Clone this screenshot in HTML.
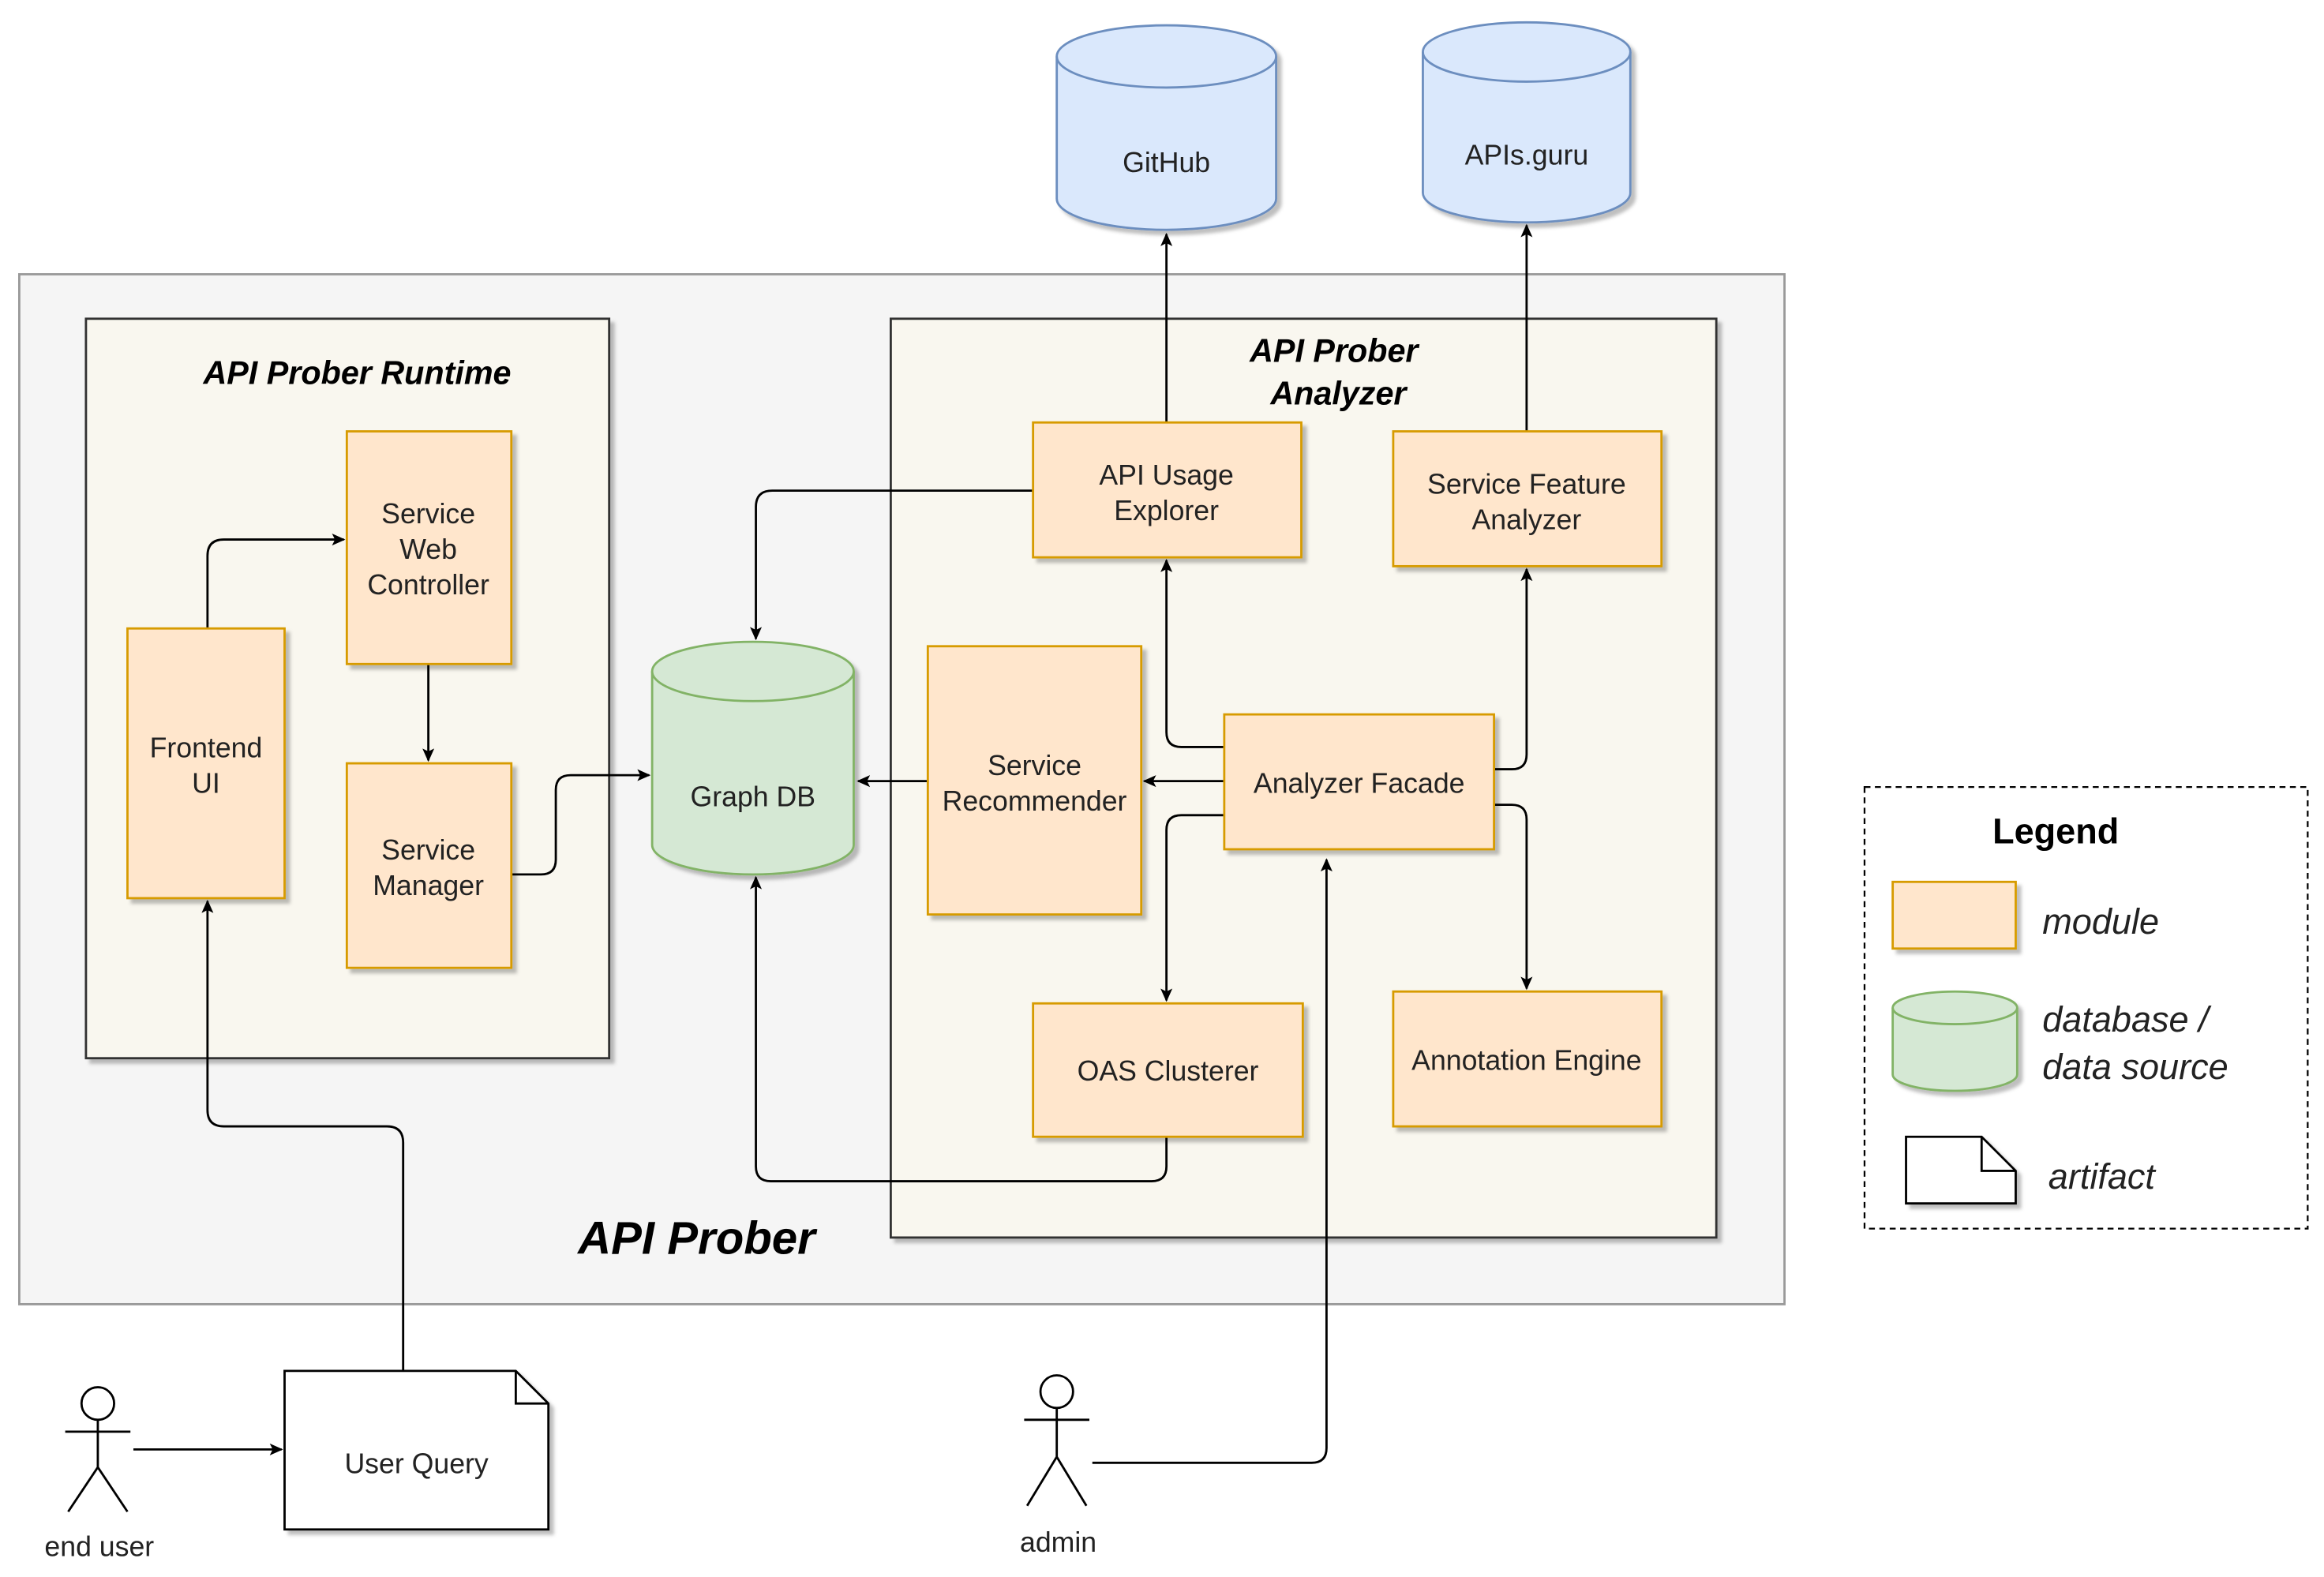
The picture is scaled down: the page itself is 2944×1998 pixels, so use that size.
<!DOCTYPE html>
<html><head><meta charset="utf-8"><style>html,body{margin:0;padding:0;background:#fff}svg{display:block}</style></head>
<body>
<svg width="2944" height="1998" viewBox="0 0 1568 1064" xmlns="http://www.w3.org/2000/svg" font-family="Liberation Sans, Arial, sans-serif">
<defs>
<marker id="a" markerWidth="10" markerHeight="10" refX="8" refY="5" orient="auto" markerUnits="userSpaceOnUse"><path d="M0,1 L9,5 L0,9 L2,5 z" fill="#000"/></marker>
<filter id="s" x="-10%" y="-10%" width="130%" height="130%"><feDropShadow dx="3" dy="3" stdDeviation="1.2" flood-color="#000" flood-opacity="0.25"/></filter>
</defs>
<rect x="13" y="185" width="1191" height="695" fill="#f5f5f5" stroke="#999" stroke-width="1.5"/>
<rect x="1258" y="531" width="299" height="298" fill="#fff" stroke="#000" stroke-width="1.2" stroke-dasharray="4,3"/>
<rect x="58" y="215" width="353" height="499" fill="#f9f7ef" stroke="#333" stroke-width="1.5" filter="url(#s)"/>
<rect x="601" y="215" width="557" height="620" fill="#f9f7ef" stroke="#333" stroke-width="1.5" filter="url(#s)"/>
<text x="241" y="259" font-size="22" font-weight="bold" font-style="italic" text-anchor="middle">API Prober Runtime</text>
<text x="900" y="244" font-size="22" font-weight="bold" font-style="italic" text-anchor="middle">API Prober</text>
<text x="903" y="273" font-size="22" font-weight="bold" font-style="italic" text-anchor="middle">Analyzer</text>
<text x="470" y="846" font-size="31" font-weight="bold" font-style="italic" text-anchor="middle">API Prober</text>
<g fill="none" stroke="#000" stroke-width="1.5">
<path d="M140,424 V375 Q140,364 151,364 H232" marker-end="url(#a)"/>
<path d="M289,448 V513" marker-end="url(#a)"/>
<path d="M345,590 H365 Q375,590 375,580 V533 Q375,523 385,523 H438" marker-end="url(#a)"/>
<path d="M697,331 H521 Q510,331 510,342 V431" marker-end="url(#a)"/>
<path d="M787,285 V158" marker-end="url(#a)"/>
<path d="M1030,291 V152" marker-end="url(#a)"/>
<path d="M626,527 H579" marker-end="url(#a)"/>
<path d="M826,527 H772" marker-end="url(#a)"/>
<path d="M826,504 H797 Q787,504 787,494 V378" marker-end="url(#a)"/>
<path d="M1008,519 H1020 Q1030,519 1030,509 V384" marker-end="url(#a)"/>
<path d="M1008,543 H1020 Q1030,543 1030,553 V667" marker-end="url(#a)"/>
<path d="M826,550 H797 Q787,550 787,560 V675" marker-end="url(#a)"/>
<path d="M787,767 V787 Q787,797 777,797 H520 Q510,797 510,787 V592" marker-end="url(#a)"/>
<path d="M272,925 V771 Q272,760 261,760 H151 Q140,760 140,749 V608" marker-end="url(#a)"/>
<path d="M90,978 H190" marker-end="url(#a)"/>
<path d="M737,987 H885 Q895,987 895,977 V580" marker-end="url(#a)"/>
</g>
<g fill="#ffe6cc" stroke="#d79b00" stroke-width="1.5" filter="url(#s)">
<rect x="234" y="291" width="111" height="157"/>
<rect x="86" y="424" width="106" height="182"/>
<rect x="234" y="515" width="111" height="138"/>
<rect x="697" y="285" width="181" height="91"/>
<rect x="940" y="291" width="181" height="91"/>
<rect x="626" y="436" width="144" height="181"/>
<rect x="826" y="482" width="182" height="91"/>
<rect x="697" y="677" width="182" height="90"/>
<rect x="940" y="669" width="181" height="91"/>
<rect x="1277" y="595" width="83" height="45"/>
</g>
<g font-size="19" text-anchor="middle" fill="#222">
<text x="289" y="353">Service</text><text x="289" y="377">Web</text><text x="289" y="401">Controller</text>
<text x="139" y="511">Frontend</text><text x="139" y="535">UI</text>
<text x="289" y="580">Service</text><text x="289" y="604">Manager</text>
<text x="787" y="327">API Usage</text><text x="787" y="351">Explorer</text>
<text x="1030" y="333">Service Feature</text><text x="1030" y="357">Analyzer</text>
<text x="698" y="523">Service</text><text x="698" y="547">Recommender</text>
<text x="917" y="535">Analyzer Facade</text>
<text x="788" y="729">OAS Clusterer</text>
<text x="1030" y="722">Annotation Engine</text>
</g>
<g filter="url(#s)" stroke-width="1.5">
<path d="M440,453 A68,20 0 0 1 576,453 V570 A68,20 0 0 1 440,570 Z" fill="#d5e8d4" stroke="#82b366"/>
<path d="M440,453 A68,20 0 0 0 576,453" fill="none" stroke="#82b366"/>
<path d="M713,38 A74,21 0 0 1 861,38 V134 A74,21 0 0 1 713,134 Z" fill="#dae8fc" stroke="#6c8ebf"/>
<path d="M713,38 A74,21 0 0 0 861,38" fill="none" stroke="#6c8ebf"/>
<path d="M960,35 A70,20 0 0 1 1100,35 V130 A70,20 0 0 1 960,130 Z" fill="#dae8fc" stroke="#6c8ebf"/>
<path d="M960,35 A70,20 0 0 0 1100,35" fill="none" stroke="#6c8ebf"/>
<path d="M1277,680 A42,11 0 0 1 1361,680 V725 A42,11 0 0 1 1277,725 Z" fill="#d5e8d4" stroke="#82b366"/>
<path d="M1277,680 A42,11 0 0 0 1361,680" fill="none" stroke="#82b366"/>
<path d="M192,925 H348 L370,947 V1032 H192 Z" fill="#fff" stroke="#000"/>
<path d="M1286,767 H1337 L1360,790 V812 H1286 Z" fill="#fff" stroke="#000"/>
</g>
<path d="M348,925 V947 H370 M1337,767 V790 H1360" fill="none" stroke="#000" stroke-width="1.5"/>
<g font-size="19" text-anchor="middle" fill="#222">
<text x="508" y="544">Graph DB</text>
<text x="787" y="116">GitHub</text>
<text x="1030" y="111">APIs.guru</text>
<text x="281" y="994">User Query</text>
<text x="67" y="1050">end user</text>
<text x="714" y="1047">admin</text>
</g>
<text x="1387" y="569" font-size="24" font-weight="bold" text-anchor="middle">Legend</text>
<g font-size="24" font-style="italic" fill="#222">
<text x="1378" y="630">module</text>
<text x="1378" y="696">database /</text>
<text x="1378" y="728">data source</text>
<text x="1382" y="802">artifact</text>
</g>
<g fill="none" stroke="#000" stroke-width="1.5">
<circle cx="66" cy="947" r="11" fill="#fff"/>
<path d="M66,958 V990 M44,966 H88 M66,990 L46,1020 M66,990 L86,1020"/>
<circle cx="713" cy="939" r="11" fill="#fff"/>
<path d="M713,950 V983 M691,958 H735 M713,983 L693,1016 M713,983 L733,1016"/>
</g>
</svg>
</body></html>
